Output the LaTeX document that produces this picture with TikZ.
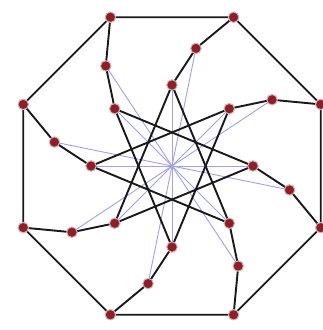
\documentclass[tikz,border=0pt]{standalone}
\begin{document}
\begin{tikzpicture}[x=1pt,y=1pt,
  vtx/.style={circle,fill=vred,draw=vred!35,line width=1pt,inner sep=0pt,minimum size=10.5pt},
  edge/.style={line width=1.9pt,black!90},
  spoke/.style={line width=0.9pt,spokeblue}]
\definecolor{vred}{RGB}{140,32,42}
\definecolor{spokeblue}{RGB}{160,160,235}
\useasboundingbox (-172,-164) rectangle (150,166);
\coordinate (c) at (0,0);
\foreach \k in {0,...,7}{
  \coordinate (o\k) at ({22.5+45*\k}:161);
  \coordinate (m\k) at ({33.5+45*\k}:120);
  \coordinate (i\k) at ({45+45*\k}:81);
}
% spokes
\foreach \k in {0,...,7}{
  \draw[spoke] (c) -- (m\k);
  \draw[spoke] (c) -- (i\k);
}
% outer octagon
\draw[edge] (o0) -- (o1) -- (o2) -- (o3) -- (o4) -- (o5) -- (o6) -- (o7) -- cycle;
% paths outer-middle-inner
\foreach \k in {0,...,7}{
  \draw[edge] (o\k) -- (m\k) -- (i\k);
}
% star {8/3}
\foreach \k [evaluate=\k as \j using {int(mod(\k+3,8))}] in {0,...,7}{
  \draw[edge] (i\k) -- (i\j);
}
% vertices
\foreach \k in {0,...,7}{
  \node[vtx] (O\k) at (o\k) {};
  \node[vtx] (M\k) at (m\k) {};
  \node[vtx] (I\k) at (i\k) {};
}
\end{tikzpicture}
\end{document}
